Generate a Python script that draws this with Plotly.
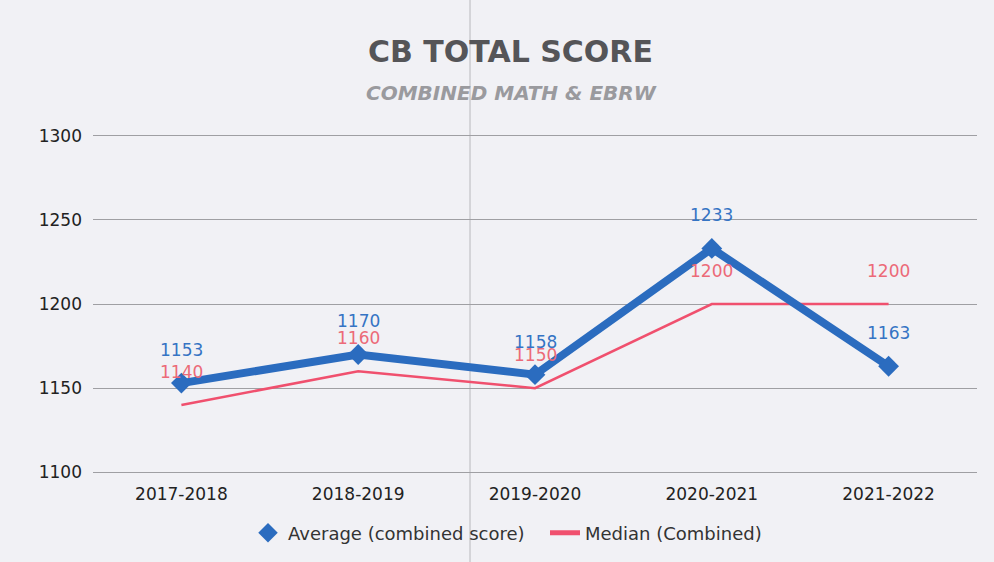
import plotly.graph_objects as go

years = ["2017-2018", "2018-2019", "2019-2020", "2020-2021", "2021-2022"]
average = [1153, 1170, 1158, 1233, 1163]
median = [1140, 1160, 1150, 1200, 1200]
y_ticks = [1100, 1150, 1200, 1250, 1300]

BLUE = "#2b6cbf"
RED = "#f0506e"
BG = "#f1f1f5"
FONT = "DejaVu Sans, Liberation Sans, Arial"

W, H = 994, 562
ML, MR, MT, MB = 93, 17, 129, 82


def px_x(p):
    return (p - ML) / (W - ML - MR)


def px_y(p):
    return (H - MB - p) / (H - MT - MB)


fig = go.Figure()

fig.add_trace(go.Scatter(
    x=years, y=median, mode="lines", name="Median (Combined)",
    line=dict(color=RED, width=2.5), showlegend=False))
fig.add_trace(go.Scatter(
    x=years, y=average, mode="lines+markers", name="Average (combined score)",
    line=dict(color=BLUE, width=8),
    marker=dict(symbol="diamond", size=16, color=BLUE), showlegend=False))

# legend-only entries
fig.add_trace(go.Scatter(
    x=[None], y=[None], mode="markers", name="Average (combined score)",
    marker=dict(symbol="diamond", size=15, color=BLUE), legend="legend"))
fig.add_trace(go.Scatter(
    x=[None], y=[None], mode="lines", name="Median (Combined)",
    line=dict(color=RED, width=5), legend="legend2"))

for x, v in zip(years, average):
    fig.add_annotation(x=x, y=v, text=str(v), showarrow=False, yshift=33,
                       font=dict(family=FONT, size=17, color="#3574c4"))
for x, v in zip(years, median):
    fig.add_annotation(x=x, y=v, text=str(v), showarrow=False, yshift=33,
                       font=dict(family=FONT, size=17, color="#ec6a78"))

# title and subtitle
fig.add_annotation(xref="paper", yref="paper", x=px_x(510), y=px_y(51),
                   xanchor="center", yanchor="middle",
                   text="<b>CB TOTAL SCORE</b>", showarrow=False,
                   font=dict(family=FONT, size=30, color="#555558"))
fig.add_annotation(xref="paper", yref="paper", x=px_x(511), y=px_y(93),
                   xanchor="center", yanchor="middle",
                   text="<b><i>COMBINED MATH &amp; EBRW</i></b>", showarrow=False,
                   font=dict(family=FONT, size=20, color="#9a9a9e"))

# scan fold line
fig.add_shape(type="line", xref="paper", yref="paper",
              x0=px_x(470), x1=px_x(470), y0=px_y(H + 2), y1=px_y(-2),
              line=dict(color="#b8b8bc", width=1), layer="below")

legend_common = dict(orientation="h", yanchor="middle", y=px_y(533), xanchor="left",
                     font=dict(family=FONT, size=18, color="#333"),
                     bgcolor="rgba(0,0,0,0)", itemwidth=30)

fig.update_layout(
    width=W, height=H,
    paper_bgcolor=BG, plot_bgcolor=BG,
    margin=dict(l=ML, r=MR, t=MT, b=MB),
    font=dict(family=FONT, size=17, color="#222"),
    xaxis=dict(type="category", range=[-0.5, 4.5], showgrid=False, zeroline=False,
               showline=False, ticks="", ticklabelstandoff=3,
               tickfont=dict(family=FONT, size=17, color="#222")),
    yaxis=dict(range=[1096, 1304], tickvals=y_ticks, showgrid=True,
               gridcolor="#9f9fa3", gridwidth=1, zeroline=False, showline=False,
               ticks="", ticklabelstandoff=10,
               tickfont=dict(family=FONT, size=17, color="#222")),
    legend=dict(x=px_x(248), **legend_common),
    legend2=dict(x=px_x(545), **legend_common),
)

fig.write_html("out.html", config={"displayModeBar": False},
               post_script="document.body.style.margin='0';")
